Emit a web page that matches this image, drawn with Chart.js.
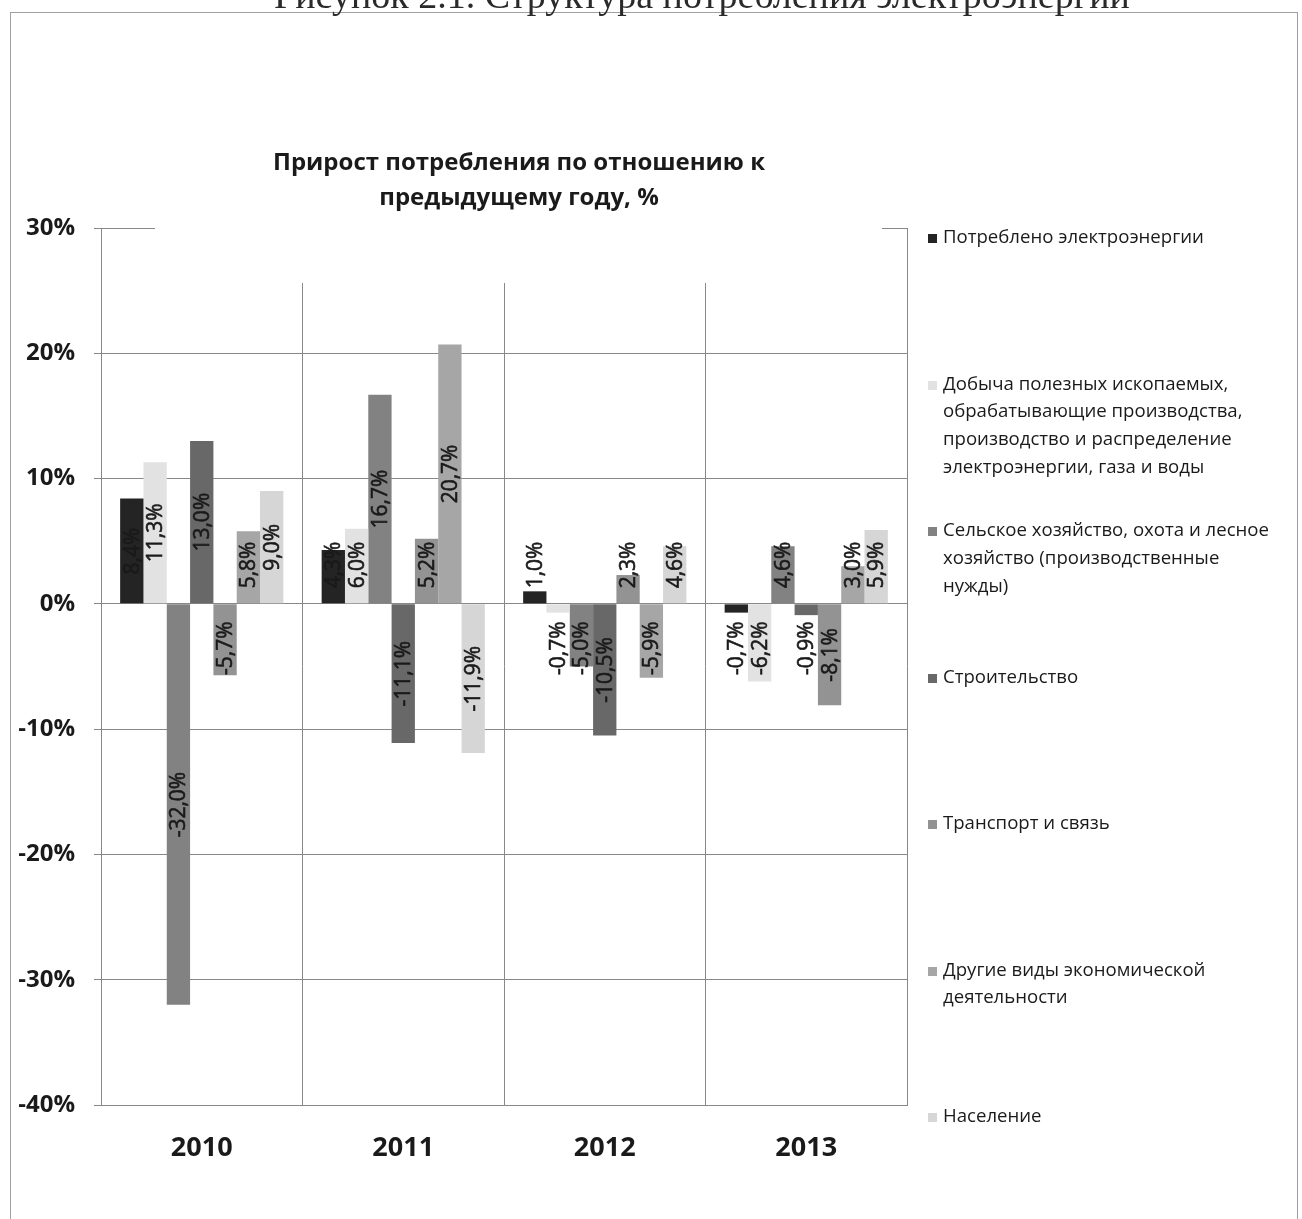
<!DOCTYPE html>
<html>
<head>
<meta charset="utf-8">
<title>Прирост потребления электроэнергии</title>
<script src="https://cdn.jsdelivr.net/npm/chart.js@4.4.1/dist/chart.umd.min.js"></script>
<style>
  html, body { margin: 0; padding: 0; background: #ffffff; width: 1302px; height: 1219px; overflow: hidden; }
  #wrap { position: absolute; left: 0; top: 0; width: 1302px; height: 1219px; }
</style>
</head>
<body>
<div id="wrap"><canvas id="chart" width="1302" height="1219"></canvas></div>
<script>
// Years on the category axis
const years = ['2010', '2011', '2012', '2013'];

// Series names (legend entries, line breaks as shown in the legend)
const seriesNames = [
  'Потреблено электроэнергии',
  'Добыча полезных ископаемых,\nобрабатывающие производства,\nпроизводство и распределение\nэлектроэнергии, газа и воды',
  'Сельское хозяйство, охота и лесное\nхозяйство (производственные\nнужды)',
  'Строительство',
  'Транспорт и связь',
  'Другие виды экономической\nдеятельности',
  'Население'
];

// Growth versus previous year, %
const consumed        = [8.4, 4.3, 1.0, -0.7];
const mining          = [11.3, 6.0, -0.7, -6.2];
const agriculture     = [-32.0, 16.7, -5.0, 4.6];
const construction    = [13.0, -11.1, -10.5, -0.9];
const transport       = [-5.7, 5.2, 2.3, -8.1];
const otherActivities = [5.8, 20.7, -5.9, 3.0];
const households      = [9.0, -11.9, 4.6, 5.9];

// Value axis range and step, %
const yMin = -40, yMax = 30, yStep = 10;

const seriesValues = [consumed, mining, agriculture, construction, transport, otherActivities, households];
const seriesColors = ['#242424', '#e2e2e2', '#828282', '#686868', '#939393', '#a6a6a6', '#d6d6d6'];

const FONT = '"Open Sans", "Noto Sans", sans-serif';
const TEXT = '#1a1a1a';
const GRID = '#888888';

const fmt = v => v.toFixed(1).replace('.', ',') + '%';

// Caption line, outer frame, chart title with its white box
const decorPlugin = {
  id: 'decor',
  beforeDatasetsDraw(chart) {
    const ctx = chart.ctx;
    const a = chart.chartArea;
    ctx.save();
    ctx.fillStyle = '#ffffff';
    ctx.fillRect(155, a.top - 6, 727, 283 - a.top + 6);
    ctx.fillStyle = TEXT;
    ctx.textAlign = 'center';
    ctx.textBaseline = 'middle';
    ctx.font = 'bold 24px ' + FONT;
    ctx.fillText('Прирост потребления по отношению к', 519, 163);
    ctx.fillText('предыдущему году, %', 519, 198);
    ctx.restore();
  },
  afterDraw(chart) {
    const ctx = chart.ctx;
    ctx.save();
    ctx.strokeStyle = '#a0a0a0';
    ctx.lineWidth = 1;
    ctx.strokeRect(10.5, 12.5, 1287, 1300);
    ctx.fillStyle = '#2a2a2a';
    ctx.font = '38px "Liberation Serif", serif';
    ctx.textAlign = 'center';
    ctx.textBaseline = 'alphabetic';
    ctx.fillText('Рисунок 2.1. Структура потребления электроэнергии', 702, 8);
    ctx.restore();
  }
};

// Rotated value labels: centred on the bar, kept clear of the zero line
const valueLabelPlugin = {
  id: 'valueLabels',
  afterDatasetsDraw(chart) {
    const ctx = chart.ctx;
    ctx.save();
    ctx.font = '21px ' + FONT;
    ctx.fillStyle = TEXT;
    ctx.strokeStyle = TEXT;
    ctx.lineWidth = 0.6;
    ctx.textAlign = 'center';
    ctx.textBaseline = 'middle';
    chart.data.datasets.forEach((ds, di) => {
      const meta = chart.getDatasetMeta(di);
      meta.data.forEach((bar, i) => {
        const v = ds.data[i];
        const txt = fmt(v);
        const w = ctx.measureText(txt).width;
        let cy = (bar.y + bar.base) / 2;
        if (v >= 0) {
          cy = Math.min(cy, bar.base - 15 - w / 2);
        } else {
          cy = Math.max(cy, bar.base + 17 + w / 2);
        }
        ctx.save();
        ctx.translate(bar.x + 1, cy);
        ctx.rotate(-Math.PI / 2);
        ctx.fillText(txt, 0, 0);
        ctx.strokeText(txt, 0, 0);
        ctx.restore();
      });
    });
    ctx.restore();
  }
};

// Legend spread down the right side
const sideLegendPlugin = {
  id: 'sideLegend',
  afterDraw(chart) {
    const ctx = chart.ctx;
    const a = chart.chartArea;
    const n = chart.data.datasets.length;
    const first = a.top + 10, last = a.bottom + 12;
    const step = (last - first) / (n - 1);
    ctx.save();
    ctx.font = '18.6px ' + FONT;
    ctx.textAlign = 'left';
    ctx.textBaseline = 'middle';
    chart.data.datasets.forEach((ds, i) => {
      const y0 = first + i * step;
      ctx.fillStyle = ds.backgroundColor;
      ctx.fillRect(928, Math.round(y0 - 4), 9, 9);
      ctx.fillStyle = TEXT;
      ds.label.split('\n').forEach((line, k) => {
        ctx.fillText(line, 943, y0 + k * 27.7);
      });
    });
    ctx.restore();
  }
};

new Chart(document.getElementById('chart'), {
  type: 'bar',
  data: {
    labels: years,
    datasets: seriesValues.map((vals, i) => ({
      label: seriesNames[i],
      data: vals,
      backgroundColor: seriesColors[i],
      borderWidth: 0,
      categoryPercentage: 0.81,
      barPercentage: 1.0
    }))
  },
  options: {
    responsive: false,
    animation: false,
    devicePixelRatio: 1,
    layout: { padding: { left: 0, top: 228, right: 395, bottom: 0 } },
    plugins: {
      legend: { display: false },
      title: { display: false },
      tooltip: { enabled: false }
    },
    scales: {
      x: {
        grid: { offset: true, color: GRID, lineWidth: 1, drawTicks: false },
        border: { display: true, color: GRID },
        ticks: { font: { family: FONT, size: 27, weight: 'bold' }, color: TEXT, padding: 27 },
        afterFit(s) { s.height = 114; }
      },
      y: {
        min: yMin,
        max: yMax,
        ticks: {
          stepSize: yStep,
          callback: v => v + '%',
          font: { family: FONT, size: 24, weight: 'bold' },
          color: TEXT,
          padding: 19
        },
        grid: { color: GRID, lineWidth: 1, tickLength: 7 },
        border: { color: GRID },
        afterFit(s) { s.width = 101; }
      }
    }
  },
  plugins: [decorPlugin, valueLabelPlugin, sideLegendPlugin]
});
</script>
</body>
</html>
